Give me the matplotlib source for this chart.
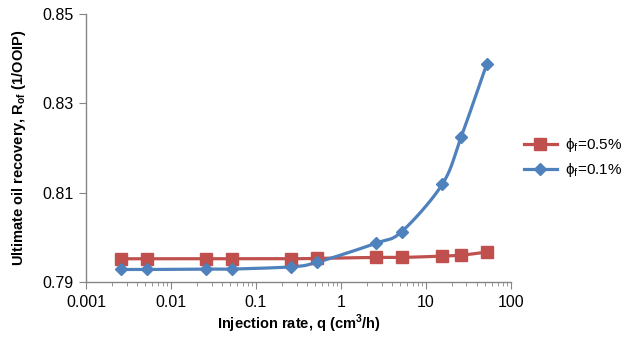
import numpy as np
import matplotlib.pyplot as plt
from matplotlib.ticker import LogLocator, FixedLocator, NullFormatter

plt.rcParams['font.family'] = ['Liberation Sans', 'DejaVu Sans']
plt.rcParams['mathtext.fontset'] = 'custom'
plt.rcParams['mathtext.rm'] = 'Liberation Sans'
plt.rcParams['mathtext.bf'] = 'Liberation Sans:bold'

# injection rate (cm3/h)
q = [0.0026, 0.0052, 0.026, 0.052, 0.26, 0.52, 2.6, 5.2, 15.6, 26, 52]
# ultimate oil recovery
rof_05 = [0.7952, 0.7952, 0.7952, 0.7952, 0.7952, 0.7953, 0.7955, 0.7955, 0.7958, 0.7960, 0.7967]
rof_01 = [0.7928, 0.7928, 0.7929, 0.7929, 0.7934, 0.7944, 0.7987, 0.8013, 0.8119, 0.8225, 0.8388]
labels = ['ϕ$_\\mathregular{f}$=0.5%', 'ϕ$_\\mathregular{f}$=0.1%']

red = '#C0504D'
blue = '#4F81BD'
gray = '#868686'


def smooth(x, y, n=20):
    # catmull-rom through the points in log-x space, like excel smoothed lines
    lx = np.log10(x)
    y = np.asarray(y, float)
    px = np.concatenate([[2 * lx[0] - lx[1]], lx, [2 * lx[-1] - lx[-2]]])
    py = np.concatenate([[2 * y[0] - y[1]], y, [2 * y[-1] - y[-2]]])
    xs, ys = [], []
    t = np.linspace(0, 1, n)
    for i in range(1, len(px) - 2):
        for p, out in ((px, xs), (py, ys)):
            p0, p1, p2, p3 = p[i - 1], p[i], p[i + 1], p[i + 2]
            out.extend(0.5 * (2 * p1 + (-p0 + p2) * t + (2 * p0 - 5 * p1 + 4 * p2 - p3) * t ** 2
                              + (-p0 + 3 * p1 - 3 * p2 + p3) * t ** 3))
    return 10 ** np.array(xs), np.array(ys)


fig = plt.figure(figsize=(6.3, 3.41), dpi=100)
ax = fig.add_axes([0.1365, 0.173, 0.6745, 0.786])

for ys, c, m, ms, lab in ((rof_05, red, 's', 8.5, labels[0]), (rof_01, blue, 'D', 6.5, labels[1])):
    sx, sy = smooth(q, ys)
    ax.plot(sx, sy, color=c, lw=2.3, zorder=2)
    ax.plot(q, ys, ls='none', marker=m, ms=ms, color=c, zorder=3)
    ax.plot([], [], color=c, lw=2.3, marker=m, ms=ms, label=lab)

ax.set_xscale('log')
ax.set_xlim(0.001, 100)
ax.set_ylim(0.79, 0.85)
ax.yaxis.set_major_locator(FixedLocator([0.79, 0.81, 0.83, 0.85]))
ax.set_yticklabels(['0.79', '0.81', '0.83', '0.85'])
ax.set_xticks([0.001, 0.01, 0.1, 1, 10, 100])
ax.set_xticklabels(['0.001', '0.01', '0.1', '1', '10', '100'])
ax.xaxis.set_minor_locator(LogLocator(base=10, subs=np.arange(2, 10), numticks=10))
ax.xaxis.set_minor_formatter(NullFormatter())

for s in ('top', 'right'):
    ax.spines[s].set_visible(False)
for s in ('left', 'bottom'):
    ax.spines[s].set_color(gray)
    ax.spines[s].set_linewidth(1)
ax.tick_params(which='major', direction='out', length=5, color=gray, labelsize=11.5, pad=4)
ax.tick_params(which='minor', direction='out', length=3, color=gray)

ax.set_xlabel('Injection rate, q (cm$^\\mathregular{3}$/h)', fontsize=10.5, fontweight='bold', labelpad=2)
ax.set_ylabel('Ultimate oil recovery, R$_\\mathregular{of}$ (1/OOIP)', fontsize=10.5, fontweight='bold', labelpad=10)

ax.legend(loc='center left', bbox_to_anchor=(1.03, 0.463), frameon=False, fontsize=11,
          handlelength=2.2, handletextpad=0.5, labelspacing=0.45, borderpad=0, borderaxespad=0)

fig.savefig('out.png', dpi=100)
